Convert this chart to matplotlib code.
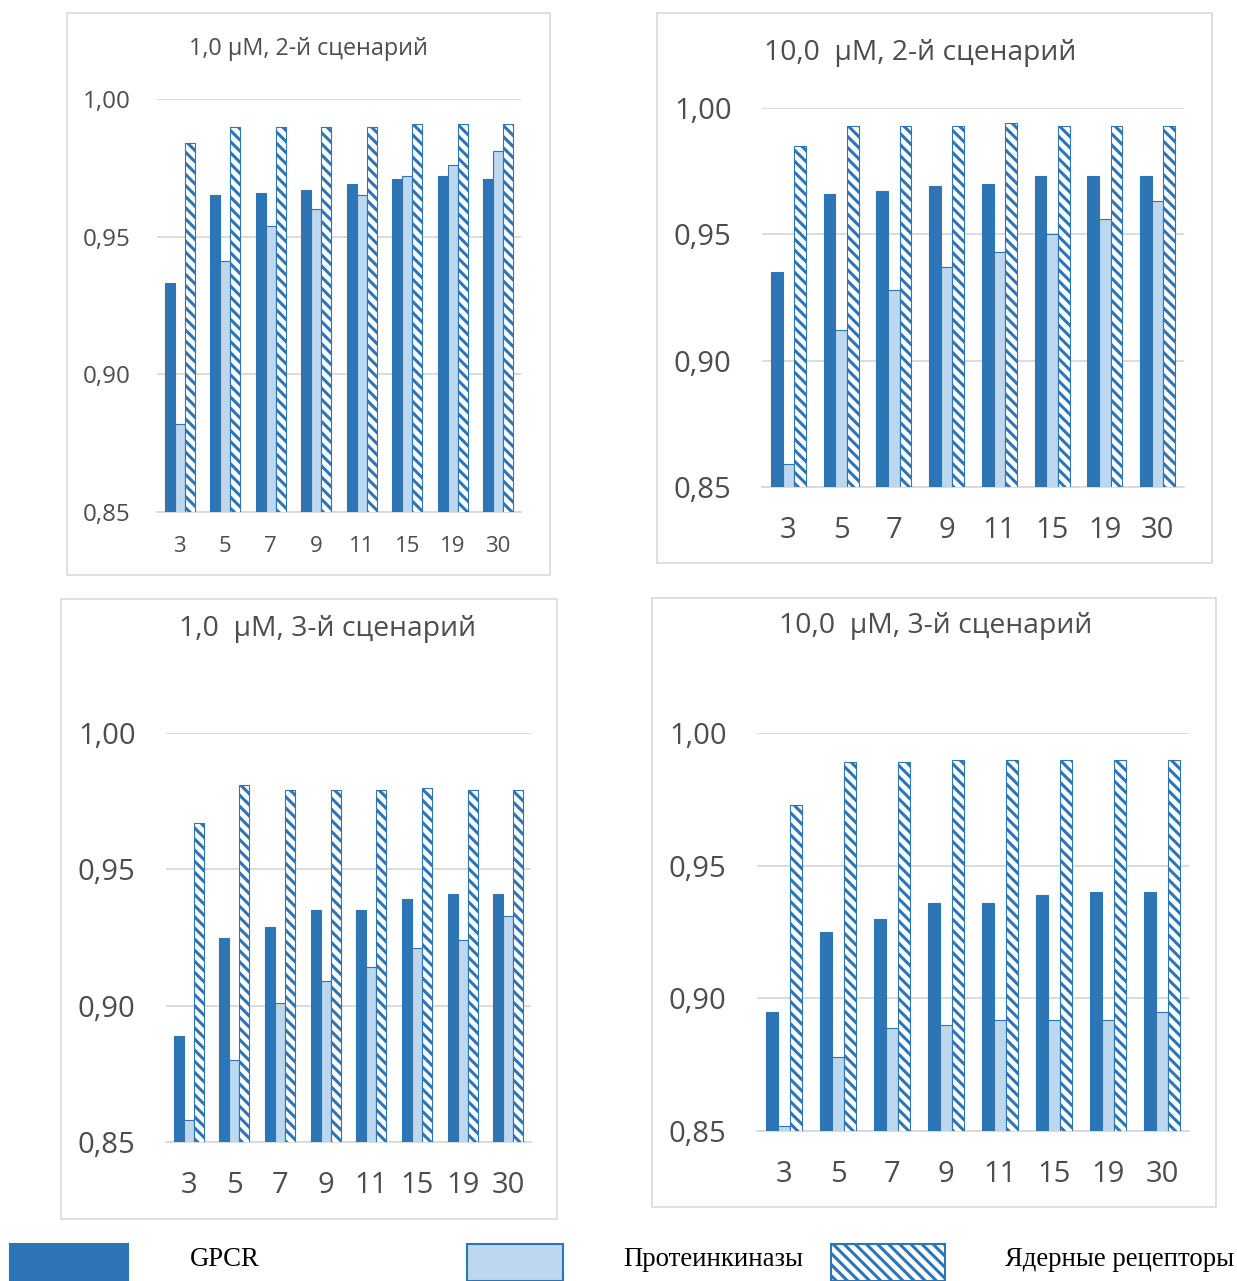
import matplotlib
matplotlib.use("Agg")
import matplotlib.pyplot as plt
from matplotlib.patches import Rectangle
import numpy as np

# --- data ---
windows = ["3", "5", "7", "9", "11", "15", "19", "30"]
series = ["GPCR", "Протеинкиназы", "Ядерные рецепторы"]

titles = ["1,0 µM, 2-й сценарий", "10,0  µM, 2-й сценарий",
          "1,0  µM, 3-й сценарий", "10,0  µM, 3-й сценарий"]

gpcr_1_s2 = [0.933, 0.965, 0.966, 0.967, 0.969, 0.971, 0.972, 0.971]
pk_1_s2 = [0.882, 0.941, 0.954, 0.960, 0.965, 0.972, 0.976, 0.981]
nr_1_s2 = [0.984, 0.990, 0.990, 0.990, 0.990, 0.991, 0.991, 0.991]

gpcr_10_s2 = [0.935, 0.966, 0.967, 0.969, 0.970, 0.973, 0.973, 0.973]
pk_10_s2 = [0.859, 0.912, 0.928, 0.937, 0.943, 0.950, 0.956, 0.963]
nr_10_s2 = [0.985, 0.993, 0.993, 0.993, 0.994, 0.993, 0.993, 0.993]

gpcr_1_s3 = [0.889, 0.925, 0.929, 0.935, 0.935, 0.939, 0.941, 0.941]
pk_1_s3 = [0.858, 0.880, 0.901, 0.909, 0.914, 0.921, 0.924, 0.933]
nr_1_s3 = [0.967, 0.981, 0.979, 0.979, 0.979, 0.980, 0.979, 0.979]

gpcr_10_s3 = [0.895, 0.925, 0.930, 0.936, 0.936, 0.939, 0.940, 0.940]
pk_10_s3 = [0.852, 0.878, 0.889, 0.890, 0.892, 0.892, 0.892, 0.895]
nr_10_s3 = [0.973, 0.989, 0.989, 0.990, 0.990, 0.990, 0.990, 0.990]

yticks = [0.85, 0.90, 0.95, 1.00]

W, H = 1237, 1281
DARK = "#2E75B6"
LIGHT = "#BDD7EE"
GRID = "#D9D9D9"
TEXT = "#4D4D4D"

plt.rcParams["font.family"] = ["Open Sans", "DejaVu Sans"]
plt.rcParams["hatch.linewidth"] = 2.2

# layout in reference pixels: box, axes (x0, x1, ytop, ybot), title centre, font sizes
panels = [
    dict(box=(67, 13, 550, 575), ax=(157, 521, 99, 512), title=(308, 49),
         tfs=16.8, yfs=17.4, xfs=16, ypad=19, xpad=17,
         data=(gpcr_1_s2, pk_1_s2, nr_1_s2)),
    dict(box=(657, 13, 1212, 563), ax=(762, 1184, 108, 487), title=(920, 53),
         tfs=20.3, yfs=21, xfs=21, ypad=22, xpad=21,
         data=(gpcr_10_s2, pk_10_s2, nr_10_s2)),
    dict(box=(61, 599, 557, 1219), ax=(166, 531, 733, 1142), title=(328, 629),
         tfs=20.4, yfs=21, xfs=21, ypad=22, xpad=21,
         data=(gpcr_1_s3, pk_1_s3, nr_1_s3)),
    dict(box=(652, 598, 1216, 1207), ax=(757, 1189, 733, 1131), title=(936, 626),
         tfs=20.4, yfs=21, xfs=21, ypad=22, xpad=21,
         data=(gpcr_10_s3, pk_10_s3, nr_10_s3)),
]

fig = plt.figure(figsize=(W / 100, H / 100), dpi=100)
fig.patch.set_facecolor("white")


def fx(x):
    return x / W


def fy(y):
    return 1 - y / H


def bar_styles():
    return [dict(color=DARK, edgecolor=DARK, linewidth=0.8),
            dict(color=LIGHT, edgecolor=DARK, linewidth=0.8),
            dict(color="white", edgecolor=DARK, linewidth=0.8, hatch="\\\\\\")]


for p, title in zip(panels, titles):
    bx0, by0, bx1, by1 = p["box"]
    fig.patches.append(Rectangle((fx(bx0), fy(by1)), fx(bx1 - bx0), (by1 - by0) / H,
                                 transform=fig.transFigure, fill=False,
                                 edgecolor=GRID, linewidth=1.2))
    x0, x1, yt, yb = p["ax"]
    ax = fig.add_axes([fx(x0), fy(yb), fx(x1 - x0), (yb - yt) / H])
    x = np.arange(len(windows))
    w = 0.22
    for k, (vals, st) in enumerate(zip(p["data"], bar_styles())):
        ax.bar(x + (k - 1) * w, vals, width=w, bottom=0, zorder=3, **st)
    ax.set_ylim(0.85, 1.00)
    ax.set_xlim(-0.5, len(windows) - 0.5)
    ax.set_yticks(yticks)
    ax.set_yticklabels([f"{v:.2f}".replace(".", ",") for v in yticks])
    ax.set_xticks(x)
    ax.set_xticklabels(windows)
    ax.yaxis.grid(True, color=GRID, linewidth=1.3, zorder=0)
    ax.set_axisbelow(True)
    for s in ("top", "right", "left"):
        ax.spines[s].set_visible(False)
    ax.spines["bottom"].set_color(GRID)
    ax.spines["bottom"].set_linewidth(1.3)
    ax.tick_params(axis="y", length=0, labelsize=p["yfs"], labelcolor=TEXT, pad=p["ypad"])
    ax.tick_params(axis="x", length=0, labelsize=p["xfs"], labelcolor=TEXT, pad=p["xpad"])
    fig.text(fx(p["title"][0]), fy(p["title"][1]), title, ha="center", va="center",
             fontsize=p["tfs"], color=TEXT)

# legend strip along the bottom
legend_items = [((10, 128), 190), ((467, 563), 623), ((831, 945), 1005)]
for (st, ((lx0, lx1), tx)), name in zip(zip(bar_styles(), legend_items), series):
    st = dict(st)
    face = st.pop("color")
    fig.patches.append(Rectangle((fx(lx0), fy(1281)), fx(lx1 - lx0), 37 / H,
                                 transform=fig.transFigure, facecolor=face,
                                 edgecolor=st.get("edgecolor"), linewidth=1.5,
                                 hatch=st.get("hatch")))
    fig.text(fx(tx), fy(1259), name, ha="left", va="center", fontsize=19.3,
             family=["Liberation Serif", "DejaVu Serif"], color="black")

fig.savefig("out.png", dpi=100, facecolor="white")
